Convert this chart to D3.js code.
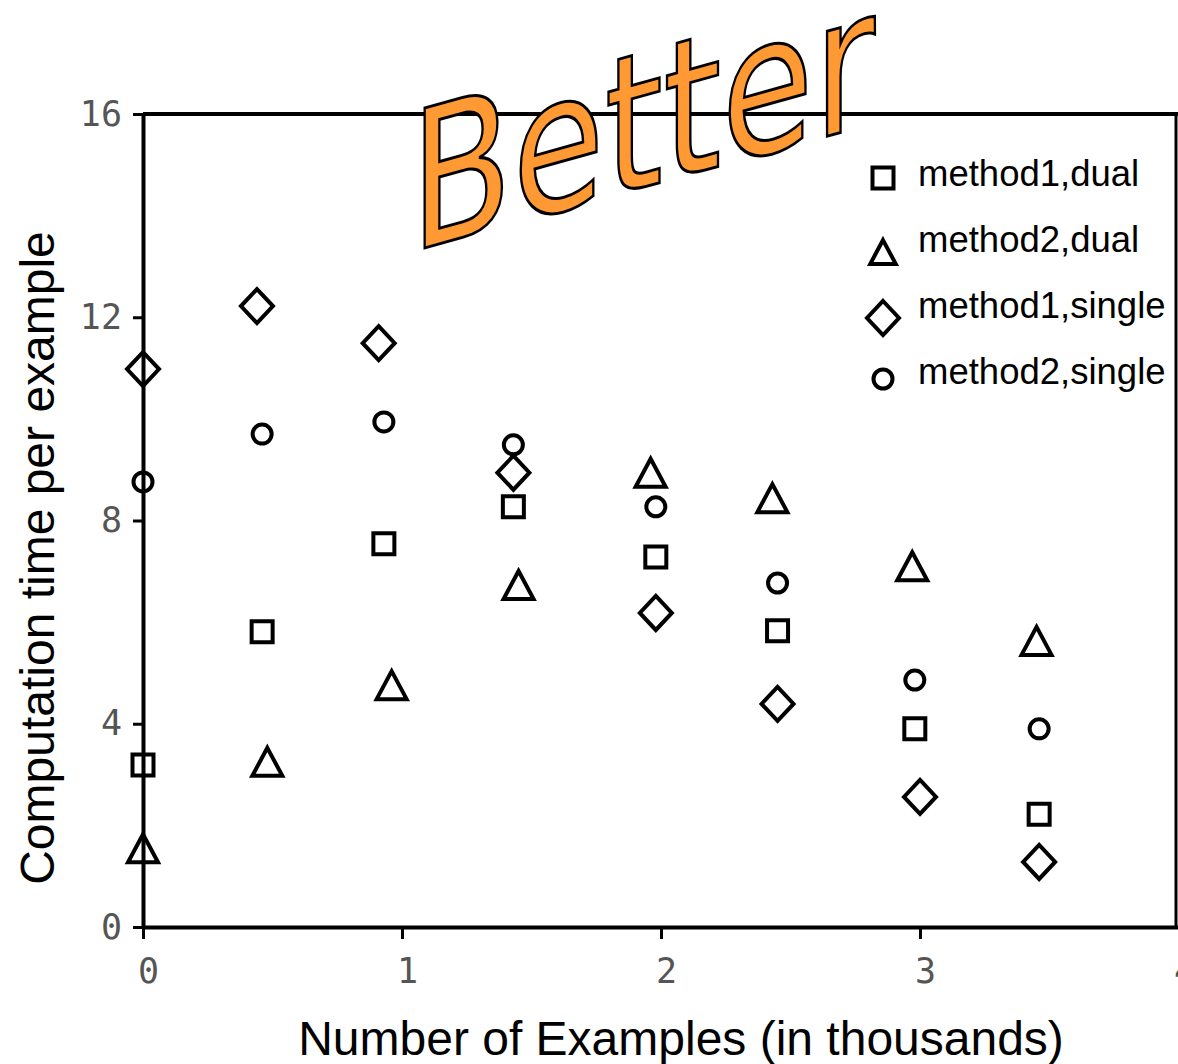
<!DOCTYPE html>
<html>
<head>
<meta charset="utf-8">
<script src="https://cdnjs.cloudflare.com/ajax/libs/d3/7.8.5/d3.min.js"></script>
<style>
	body { margin: 0; background: #fff; }
	svg { display: block; }
</style>
</head>
<body>
<svg></svg>
<script>
// series as [examples (thousands), time per example]
var seriesNames = ["method1,dual", "method2,dual", "method1,single", "method2,single"];
var seriesShapes = ["square", "triangle", "diamond", "circle"];

var method1Dual = [[0, 3.19], [0.46, 5.81], [0.93, 7.54], [1.43, 8.27], [1.98, 7.28], [2.45, 5.83], [2.98, 3.90], [3.46, 2.22]];
var method2Dual = [[0, 1.55], [0.48, 3.25], [0.96, 4.76], [1.45, 6.73], [1.96, 8.94], [2.43, 8.44], [2.97, 7.10], [3.45, 5.63]];
var method1Single = [[0, 10.98], [0.44, 12.22], [0.91, 11.49], [1.43, 8.94], [1.98, 6.18], [2.45, 4.39], [3.0, 2.56], [3.46, 1.28]];
var method2Single = [[0, 8.76], [0.46, 9.70], [0.93, 9.94], [1.43, 9.49], [1.98, 8.27], [2.45, 6.77], [2.98, 4.86], [3.46, 3.90]];

var xTicks = [0, 1, 2, 3, 4];
var yTicks = [0, 4, 8, 12, 16];

var xTitle = "Number of Examples (in thousands)";
var yTitle = "Computation time per example";
var stamp = "Better";

var width = 1178, height = 1064;

var svg = d3.select("svg")
	.attr("width", width)
	.attr("height", height);

var x = d3.scaleLinear().domain([0, 4]).range([143, 1179]);
var y = d3.scaleLinear().domain([0, 16]).range([927, 114]);

// marker outlines, centred on the point
function shapePath(kind, k) {
	k = k || 1;
	if (kind == "square") return "M" + (-10.5*k) + "," + (-10.5*k) + "h" + 21*k + "v" + 21*k + "h" + (-21*k) + "Z";
	if (kind == "triangle") return "M0," + (-14*k) + "L" + 15*k + "," + 14*k + "L" + (-15*k) + "," + 14*k + "Z";
	if (kind == "diamond") return "M0," + (-17*k) + "L" + 16*k + ",0L0," + 17*k + "L" + (-16*k) + ",0Z";
	var r = 9.5*k;
	return "M" + r + ",0A" + r + "," + r + " 0 1,1 " + (-r) + ",0A" + r + "," + r + " 0 1,1 " + r + ",0Z";
}

// frame: top and right edges
svg.append("line")
	.attr("x1", x(0)).attr("x2", width)
	.attr("y1", y(16)).attr("y2", y(16))
	.attr("stroke", "#000").attr("stroke-width", 4);
svg.append("line")
	.attr("x1", x(4) - 3).attr("x2", x(4) - 3)
	.attr("y1", y(16)).attr("y2", y(0))
	.attr("stroke", "#000").attr("stroke-width", 3);

var gx = svg.append("g")
	.attr("transform", "translate(0," + y(0) + ")")
	.call(d3.axisBottom(x).tickValues(xTicks).tickFormat(d3.format("d")).tickSize(12).tickSizeOuter(0).tickPadding(19));

var gy = svg.append("g")
	.attr("transform", "translate(" + x(0) + ",0)")
	.call(d3.axisLeft(y).tickValues(yTicks).tickFormat(d3.format("d")).tickSize(10).tickSizeOuter(0).tickPadding(11));

[gx, gy].forEach(function(g) {
	g.select(".domain").attr("stroke", "#000").attr("stroke-width", 4);
	g.selectAll(".tick line").attr("stroke", "#000").attr("stroke-width", 3);
	g.selectAll(".tick text")
		.attr("fill", "#555")
		.style("font-family", "'DejaVu Sans Mono', 'Liberation Mono', monospace")
		.style("font-size", "35px");
});
gx.selectAll(".tick text").attr("dx", 5);

// axis titles
svg.append("text")
	.attr("text-anchor", "middle")
	.attr("x", 681)
	.attr("y", 1055)
	.style("font-family", "'Liberation Sans', Arial, sans-serif")
	.style("font-size", "48px")
	.text(xTitle);

svg.append("text")
	.attr("text-anchor", "middle")
	.attr("transform", "rotate(-90)")
	.attr("x", -558)
	.attr("y", 54)
	.style("font-family", "'Liberation Sans', Arial, sans-serif")
	.style("font-size", "48px")
	.text(yTitle);

// points
var allSeries = [method1Dual, method2Dual, method1Single, method2Single];
allSeries.forEach(function(data, i) {
	svg.append("g").selectAll("path")
		.data(data)
		.enter().append("path")
		.attr("transform", function(d) { return "translate(" + x(d[0]) + "," + y(d[1]) + ")"; })
		.attr("d", shapePath(seriesShapes[i]))
		.attr("fill", "none")
		.attr("stroke", "#000")
		.attr("stroke-width", 4);
});

// legend
var legend = svg.append("g").selectAll("g")
	.data(seriesNames)
	.enter().append("g")
	.attr("transform", function(d, i) { return "translate(0," + (186 + i*66) + ")"; });

legend.append("path")
	.attr("transform", function(d, i) { return "translate(883," + (i == 0 ? -8 : (i == 3 ? -5 : 0)) + ")"; })
	.attr("d", function(d, i) { return shapePath(seriesShapes[i], i == 1 ? 0.85 : 1); })
	.attr("fill", "none")
	.attr("stroke", "#000")
	.attr("stroke-width", 4);

legend.append("text")
	.attr("x", 918)
	.attr("y", 0)
	.style("font-family", "'Liberation Sans', Arial, sans-serif")
	.style("font-size", "36.5px")
	.text(function(d) { return d; });

// the "Better" stamp across the top
svg.append("text")
	.attr("transform", "translate(410,252) skewY(-15.5)")
	.attr("textLength", 465)
	.attr("lengthAdjust", "spacingAndGlyphs")
	.attr("fill", "#ff9933")
	.attr("stroke", "#000")
	.attr("stroke-width", 3)
	.style("font-family", "'DejaVu Sans', sans-serif")
	.style("font-size", "192px")
	.text(stamp);
</script>
</body>
</html>
